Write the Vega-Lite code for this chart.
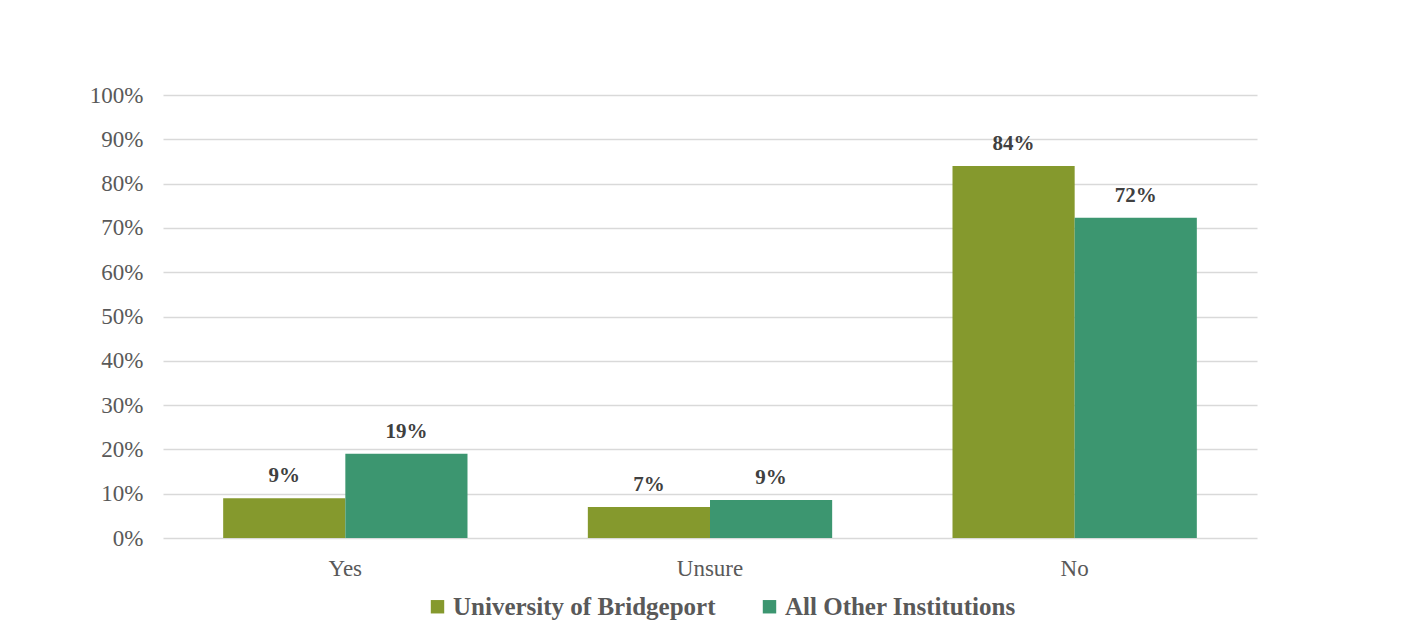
{
  "$schema": "https://vega.github.io/schema/vega-lite/v6.json",
  "autosize": {"type": "none"},
  "width": 1094,
  "height": 443,
  "padding": {"left": 163, "top": 95, "right": 159, "bottom": 102},
  "background": "#ffffff",
  "config": {
    "view": {"stroke": null},
    "font": "Liberation Serif"
  },
  "data": {
    "values": [
      {"category": "Yes", "series": "University of Bridgeport", "value": 0.09},
      {"category": "Yes", "series": "All Other Institutions", "value": 0.19},
      {"category": "Unsure", "series": "University of Bridgeport", "value": 0.07},
      {"category": "Unsure", "series": "All Other Institutions", "value": 0.086},
      {"category": "No", "series": "University of Bridgeport", "value": 0.84},
      {"category": "No", "series": "All Other Institutions", "value": 0.723}
    ]
  },
  "encoding": {
    "x": {
      "field": "category",
      "type": "nominal",
      "sort": ["Yes", "Unsure", "No"],
      "scale": {"paddingInner": 0.33, "paddingOuter": 0.165},
      "axis": {
        "title": null,
        "labelAngle": 0,
        "domain": false,
        "ticks": false,
        "labelFont": "Liberation Serif",
        "labelFontSize": 23,
        "labelColor": "#595959",
        "labelPadding": 19
      }
    },
    "xOffset": {
      "field": "series",
      "type": "nominal",
      "sort": ["University of Bridgeport", "All Other Institutions"]
    },
    "y": {
      "field": "value",
      "type": "quantitative",
      "scale": {"domain": [0, 1]},
      "axis": {
        "title": null,
        "format": ".0%",
        "values": [0, 0.1, 0.2, 0.3, 0.4, 0.5, 0.6, 0.7, 0.8, 0.9, 1],
        "labelOverlap": false,
        "domain": false,
        "ticks": false,
        "gridColor": "#d9d9d9",
        "gridWidth": 1.5,
        "labelFont": "Liberation Serif",
        "labelFontSize": 23,
        "labelColor": "#595959",
        "labelPadding": 20
      }
    },
    "color": {
      "field": "series",
      "type": "nominal",
      "sort": ["University of Bridgeport", "All Other Institutions"],
      "scale": {
        "domain": ["University of Bridgeport", "All Other Institutions"],
        "range": ["#85992d", "#3c9670"]
      },
      "legend": {
        "title": null,
        "orient": "none",
        "legendX": 262,
        "legendY": 499,
        "direction": "horizontal",
        "symbolType": "square",
        "symbolSize": 180,
        "symbolStrokeWidth": 0,
        "labelFont": "Liberation Serif",
        "labelFontSize": 25,
        "labelFontWeight": "bold",
        "labelColor": "#595959",
        "labelLimit": 400,
        "columnPadding": 41,
        "labelOffset": 3
      }
    }
  },
  "layer": [
    {"mark": {"type": "bar"}},
    {
      "mark": {
        "type": "text",
        "baseline": "bottom",
        "dy": -12,
        "fontSize": 21,
        "fontWeight": "bold",
        "font": "Liberation Serif",
        "color": "#404040"
      },
      "encoding": {
        "text": {"field": "value", "type": "quantitative", "format": ".0%"},
        "color": {"value": "#404040"}
      }
    }
  ]
}
